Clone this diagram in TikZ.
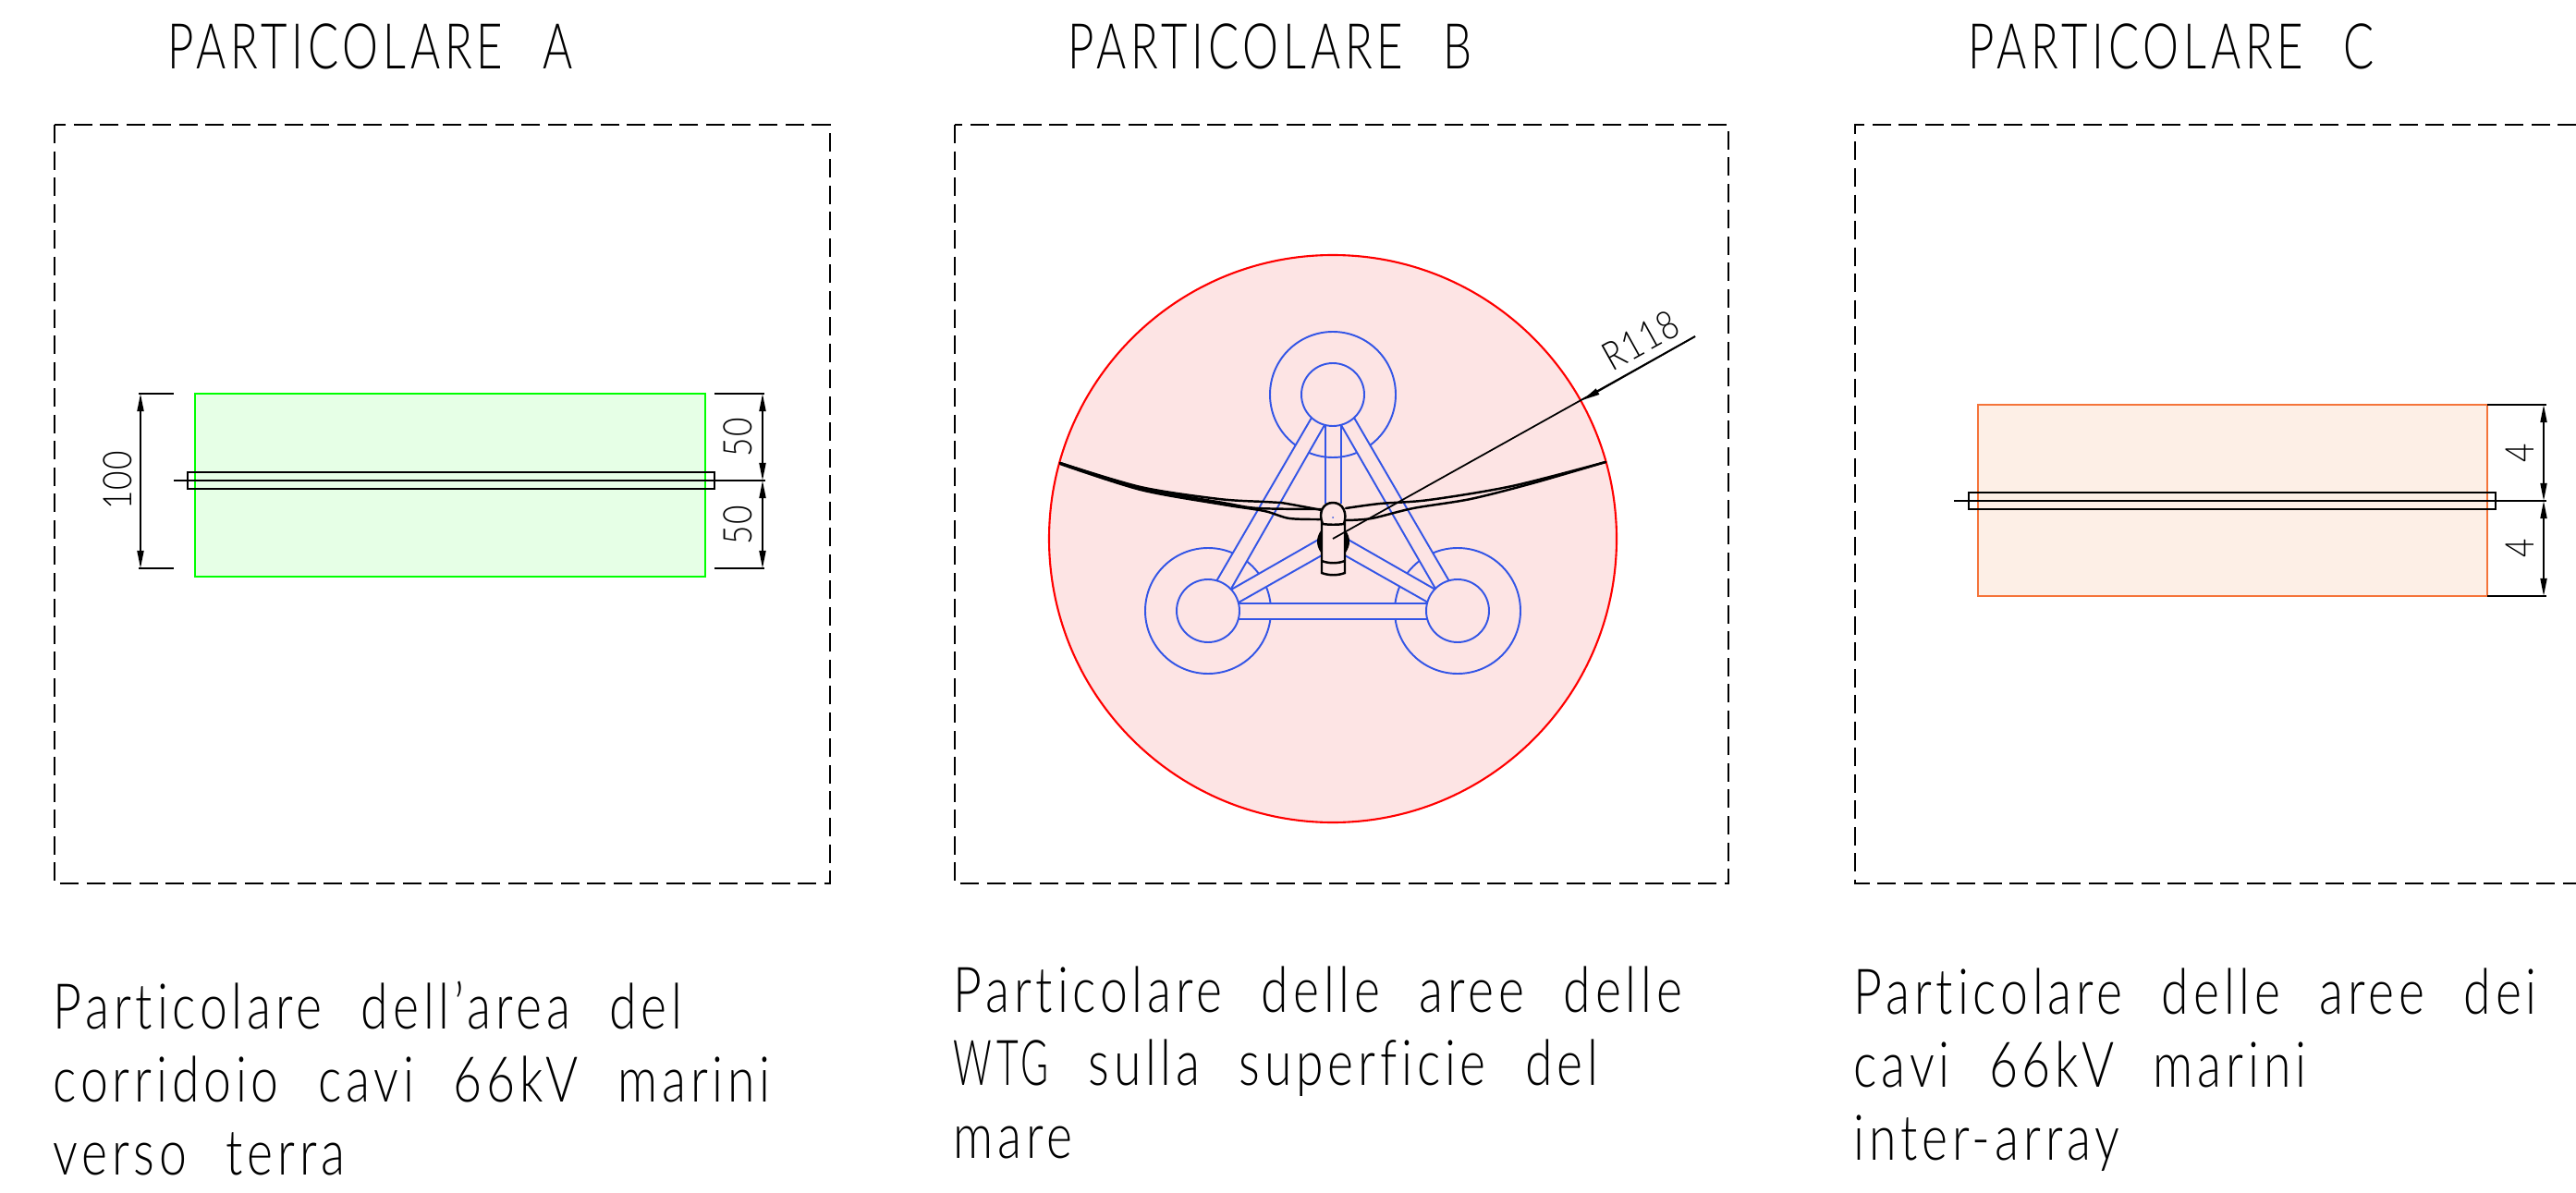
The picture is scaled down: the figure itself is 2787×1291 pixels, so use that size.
\documentclass[tikz,border=0pt]{standalone}
\usepackage{fontspec}
\usepackage{xcolor}
\usetikzlibrary{arrows.meta}
\newfontfamily\cadfont[FakeStretch=0.785,LetterSpace=7,WordSpace=2.2,Ligatures=NoCommon]{Lato Light}
\newfontfamily\stretfont[FakeStretch=0.6,LetterSpace=7,WordSpace=2.2,Ligatures=NoCommon]{Lato Light}
\newfontfamily\titfont[FakeStretch=0.72,LetterSpace=7,WordSpace=2.4,Ligatures=NoCommon]{Lato Light}
\newfontfamily\numfont[FakeStretch=0.82,LetterSpace=3,Ligatures=NoCommon]{Lato Light}
\definecolor{verdeb}{HTML}{00FF00}
\definecolor{verdef}{HTML}{E6FFE6}
\definecolor{rossob}{HTML}{FF0000}
\definecolor{rossof}{HTML}{FDE4E4}
\definecolor{aranb}{HTML}{F5743A}
\definecolor{aranf}{HTML}{FDEFE6}
\definecolor{blub}{HTML}{3355E6}
\tikzset{
  cornice/.style={line width=0.45pt,dash pattern=on 0.2cm off 0.085cm},
  linea/.style={line width=0.5pt},
  quota/.style={line width=0.5pt,<->,>={Triangle[length=0.19cm,width=0.07cm]}},
  titolo/.style={anchor=base west,inner sep=0pt,font=\titfont\fontsize{19.4}{20}\selectfont},
  didas/.style={anchor=base west,inner sep=0pt,font=\cadfont\fontsize{19.4}{20}\selectfont},
  numero/.style={inner sep=0pt,font=\numfont\fontsize{12.2}{13}\selectfont},
  blu/.style={draw=blub,line width=0.55pt},
  gamba/.style={fill=rossof},
  pala/.style={line width=0.7pt,black,line cap=round}
}
\begin{document}
\begin{tikzpicture}[x=0.01cm,y=-0.01cm]
  \useasboundingbox (0,0) rectangle (2787,1291);

  % Titoli
  \node[titolo] (titoloA) at (181,75) {PARTICOLARE A};
  \node[titolo] (titoloB) at (1155,75) {PARTICOLARE B};
  \node[titolo] (titoloC) at (2129,75) {PARTICOLARE C};

  % Cornici tratteggiate
  \draw[cornice] (59,135) rectangle (898,956);
  \draw[cornice] (1033,135) rectangle (1870,956);
  \draw[cornice] (2787,135) -- (2007,135) -- (2007,956) -- (2787,956);

  % Particolare A
  \draw[verdeb,fill=verdef,line width=0.6pt] (211,426) rectangle (763,624);
  \draw[linea] (203,511) rectangle (773,529);
  \draw[linea] (188,520) -- (828,520);
  \draw[linea] (150,426) -- (188,426);
  \draw[linea] (150,615) -- (188,615);
  \draw[quota] (152,426) -- (152,615);
  \draw[linea] (773,426) -- (827,426);
  \draw[linea] (773,615) -- (827,615);
  \draw[quota] (825,426) -- (825,520);
  \draw[quota] (825,520) -- (825,615);
  \node[numero,rotate=90] (q100) at (127,520) {100};
  \node[numero,rotate=90] (q50a) at (798,473) {50};
  \node[numero,rotate=90] (q50b) at (798,568) {50};

  % Particolare B: area circolare
  \coordinate (centroB) at (1442,583);
  \draw[rossob,fill=rossof,line width=0.6pt] (centroB) circle (307);

  % Anelli esterni
  \draw[blu] (1442,427) circle (68);
  \draw[blu] (1307,661) circle (68);
  \draw[blu] (1577,661) circle (68);

  % Gambe della fondazione
  \fill[gamba] (1419,452) -- (1316,629) -- (1332,637) -- (1433,460) -- cycle;
  \fill[gamba] (1465,452) -- (1568,629) -- (1553,637) -- (1451,460) -- cycle;
  \fill[gamba] (1332,638) -- (1428,583) -- (1430,601) -- (1340,652) -- cycle;
  \fill[gamba] (1553,638) -- (1457,583) -- (1455,601) -- (1545,652) -- cycle;
  \fill[gamba] (1340,653) rectangle (1545,670);
  \draw[blu] (1419,452) -- (1316,629);
  \draw[blu] (1433,460) -- (1332,637);
  \draw[blu] (1465,452) -- (1568,629);
  \draw[blu] (1451,460) -- (1553,637);
  \draw[blu] (1434,460) -- (1434,545);
  \draw[blu] (1451,460) -- (1451,545);
  \draw[blu] (1332,638) -- (1428,583);
  \draw[blu] (1340,652) -- (1430,601);
  \draw[blu] (1553,638) -- (1457,583);
  \draw[blu] (1545,652) -- (1455,601);
  \draw[blu] (1340,653) -- (1545,653);
  \draw[blu] (1340,670) -- (1545,670);

  % Anelli interni
  \draw[blu,fill=rossof] (1442,427) circle (34);
  \draw[blu,fill=rossof] (1307,661) circle (34);
  \draw[blu,fill=rossof] (1577,661) circle (34);

  % Pale
  \draw[pala] plot[smooth] coordinates {(1147,501) (1234,527) (1319,540) (1368,543) (1386,544) (1430,552)};
  \draw[pala] plot[smooth] coordinates {(1147,501) (1234,528) (1323,544) (1361,550) (1430,551)};
  \draw[pala] plot[smooth] coordinates {(1147,502) (1234,530) (1323,546) (1368,553) (1395,561) (1431,562)};
  \draw[pala] plot[smooth] coordinates {(1456,550) (1493,545) (1546,541) (1636,526) (1737,500)};
  \draw[pala] plot[smooth] coordinates {(1456,563) (1484,561) (1529,550) (1591,540) (1658,523) (1737,500)};

  % Navicella
  \draw[pala,fill=black] (1430,575) .. controls (1425,582) and (1425,590) .. (1430,597) -- cycle;
  \draw[pala,fill=black] (1455,575) .. controls (1460,582) and (1460,590) .. (1455,597) -- cycle;
  \draw[pala,fill=rossof] (1430,565) -- (1430,620) .. controls (1438,623) and (1447,623) .. (1455,620) -- (1455,565) -- cycle;
  \draw[pala] (1430,607) .. controls (1438,610) and (1447,610) .. (1455,607);
  \draw[pala,fill=rossof] (1431,567) .. controls (1426,555) and (1431,544) .. (1442,544) .. controls (1453,544) and (1458,555) .. (1454,567) .. controls (1447,568) and (1438,568) .. (1431,567) -- cycle;
  \fill[blub] (1442,560) circle (1);

  % Raggio
  \coordinate (fineR) at (1834,364);
  \coordinate (puntaR) at (1712,433);
  \draw[linea] (fineR) -- (centroB);
  \draw[linea,-{Triangle[length=0.19cm,width=0.07cm]}] (fineR) -- (puntaR);
  \node[numero,rotate=29] (qR) at (1775,368) {R118};

  % Particolare C
  \draw[aranb,fill=aranf,line width=0.6pt] (2140,438) rectangle (2691,645);
  \draw[linea] (2130,533) rectangle (2700,551);
  \draw[linea] (2114,542) -- (2755,542);
  \draw[linea] (2691,438) -- (2755,438);
  \draw[linea] (2691,645) -- (2755,645);
  \draw[quota] (2752,438) -- (2752,542);
  \draw[quota] (2752,542) -- (2752,645);
  \node[numero,rotate=90] (q4a) at (2726,490) {4};
  \node[numero,rotate=90] (q4b) at (2726,593) {4};

  % Didascalie
  \node[didas] (didaA1) at (57,1113) {Particolare dell’area del};
  \node[didas] (didaA2) at (57,1192) {corridoio cavi 66kV marini};
  \node[didas] (didaA3) at (57,1271) {verso terra};
  \node[didas] (didaB1) at (1031,1095) {Particolare delle aree delle};
  \node[didas] (didaB2) at (1031,1174) {{\stretfont WTG} sulla superficie del};
  \node[didas] (didaB3) at (1031,1253) {mare};
  \node[didas] (didaC1) at (2005,1097) {Particolare delle aree dei};
  \node[didas] (didaC2) at (2005,1176) {cavi 66kV marini};
  \node[didas] (didaC3) at (2005,1255) {inter-array};
\end{tikzpicture}
\end{document}
